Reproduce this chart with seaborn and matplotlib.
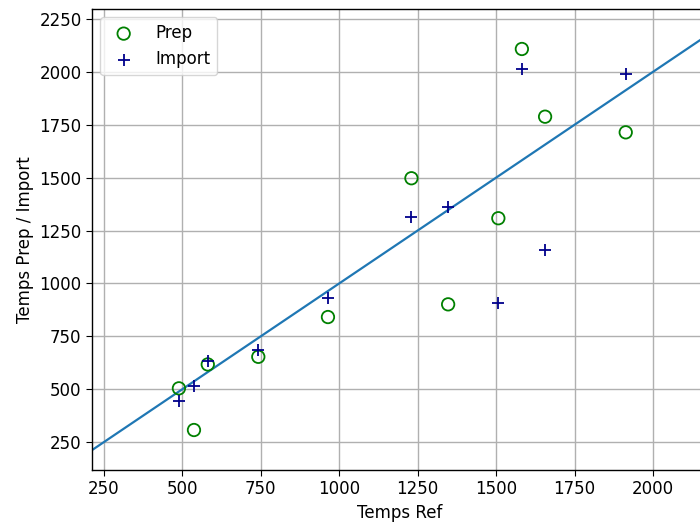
import matplotlib
matplotlib.use("Agg")
import matplotlib.pyplot as plt
import seaborn as sns
import pandas as pd

# Data
temps_ref = [489, 537, 581, 742, 964, 1230, 1347, 1507, 1582, 1656, 1913]
temps_prep = [504, 307, 617, 653, 841, 1497, 901, 1308, 2108, 1788, 1714]
temps_import = [444, 516, 633, 685, 931, 1315, 1361, 906, 2012, 1158, 1989]
identity_x = [150, 2250]
identity_y = [150, 2250]

sns.set_style("ticks")
plt.rcParams['font.family'] = ['DejaVu Sans']
plt.rcParams['font.size'] = 12
plt.rcParams['text.color'] = 'black'
plt.rcParams['axes.labelcolor'] = 'black'
plt.rcParams['xtick.color'] = 'black'
plt.rcParams['ytick.color'] = 'black'

df = pd.DataFrame({"ref": temps_ref, "prep": temps_prep, "imp": temps_import})

fig = plt.figure(figsize=(7, 5.25), dpi=100)
ax = fig.add_axes([92/700, 55/525, (707-92)/700, (470-9)/525])

sns.scatterplot(data=df, x="ref", y="prep", ax=ax, marker="o", s=80,
                facecolors="none", edgecolor="green", linewidth=1.3, label="Prep", zorder=3)
sns.scatterplot(data=df, x="ref", y="imp", ax=ax, marker="+", s=80,
                color="darkblue", linewidth=1.3, label="Import", zorder=3)
sns.lineplot(x=identity_x, y=identity_y, ax=ax, color="#1f77b4", linewidth=1.6, zorder=2)

ax.set_xlim(212, 2172)
ax.set_ylim(118, 2297)
ax.set_xticks([250, 500, 750, 1000, 1250, 1500, 1750, 2000])
ax.set_yticks([250, 500, 750, 1000, 1250, 1500, 1750, 2000, 2250])
ax.grid(True, color="#b0b0b0", linewidth=1.0)
ax.set_axisbelow(True)
ax.set_xlabel("Temps Ref", fontsize=12)
ax.set_ylabel("Temps Prep / Import", fontsize=12)
ax.tick_params(labelsize=12, direction="out", length=4, colors="black")
for s in ax.spines.values():
    s.set_color("black")
    s.set_linewidth(1.0)

leg = ax.legend(loc="upper left", fontsize=12, frameon=True, scatterpoints=1,
                borderaxespad=0.5, handletextpad=0.9)
leg.get_frame().set_edgecolor("#cccccc")

fig.savefig("out.png", dpi=100)
